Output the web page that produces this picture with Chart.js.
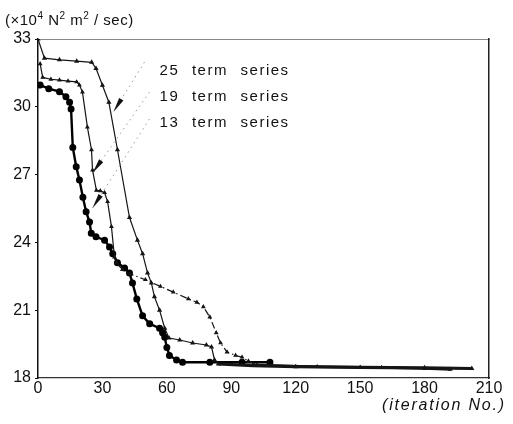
<!DOCTYPE html>
<html>
<head>
<meta charset="utf-8">
<script src="https://cdn.jsdelivr.net/npm/chart.js@4.4.1/dist/chart.umd.min.js"></script>
<style>
  html, body { margin: 0; padding: 0; background: #fff; }
  #wrap { width: 513px; height: 424px; position: relative; }
</style>
</head>
<body>
<div id="wrap"><canvas id="myChart"></canvas></div>
<script>
// 25 term series
const iter25 = [0, 3, 10, 18, 25, 27, 30, 33, 37, 42.6, 46.3, 48.7, 51, 52.8, 54.2, 56.6, 59, 61, 66, 72, 78.4, 80.8, 82.2, 84, 100, 120, 150, 180, 202];
const val25 = [33.0, 32.15, 32.08, 32.02, 31.97, 31.7, 30.95, 30.2, 28.1, 25.1, 24.1, 23.5, 22.65, 22.2, 21.6, 21.0, 20.2, 19.77, 19.68, 19.55, 19.46, 19.37, 18.8, 18.62, 18.55, 18.5, 18.47, 18.45, 18.42];

// 19 term series
const iter19 = [1, 2.2, 6, 10, 14, 18, 19.3, 20.7, 23, 24.9, 25.4, 27.2, 29, 31, 32.4, 34.2, 35.6, 36.5, 39.3, 43, 50, 57, 63, 70, 74, 77, 80, 83, 85, 88, 92, 95, 98, 102, 130, 160, 180, 192];
const val19 = [31.9, 31.3, 31.22, 31.18, 31.14, 31.1, 30.96, 30.65, 29.1, 28.1, 27.2, 26.3, 26.28, 26.2, 25.8, 24.7, 23.35, 23.1, 22.8, 22.6, 22.35, 22.05, 21.8, 21.5, 21.35, 21.15, 20.7, 20.0, 19.55, 19.15, 19.0, 18.92, 18.75, 18.58, 18.5, 18.46, 18.42, 18.38];

// 13 term series
const iter13 = [1, 5, 10, 13, 14.7, 15.4, 16.2, 17.8, 19.3, 20.9, 22.4, 24, 24.8, 27, 31, 33.3, 34.8, 37, 40.3, 42.6, 44, 46, 48.7, 52, 56.6, 58, 59, 60, 61.2, 64.5, 67.3, 80, 95, 108];
const val13 = [30.96, 30.8, 30.67, 30.45, 30.2, 29.9, 28.2, 27.35, 26.76, 26.0, 25.36, 24.9, 24.4, 24.25, 24.1, 23.8, 23.5, 23.1, 22.87, 22.65, 22.2, 21.5, 20.75, 20.4, 20.2, 20.0, 19.8, 19.35, 19.0, 18.8, 18.7, 18.7, 18.7, 18.7];

// labels and leader arrows (data units)
const seriesNames = ['25 term series', '19 term series', '13 term series'];
const nameX = [56.6, 56.6, 56.6];
const nameY = [31.63, 30.48, 29.33];
const leadFromX = [49.6, 51.9, 51.9];
const leadFromY = [31.98, 30.65, 29.46];
const tipX = [35.1, 25.4, 25.4];
const tipY = [29.77, 27.07, 25.52];

const xTicks = [0, 30, 60, 90, 120, 150, 180, 210];
const yTicks = [18, 21, 24, 27, 30, 33];

function pts(xs, ys) {
    return xs.map((v, i) => ({ x: v, y: ys[i] }));
}

const FONT = '"Liberation Sans", Arial, sans-serif';

const notes = {
    id: 'notes',
    afterDraw(chart) {
        const ctx = chart.ctx;
        const x = chart.scales.x;
        const y = chart.scales.y;
        ctx.save();
        ctx.fillStyle = '#111';
        ctx.textBaseline = 'alphabetic';
        ctx.textAlign = 'left';

        // unit label top-left
        const parts = [['(\u00d710', 0], ['4', 1], [' N', 0], ['2', 1], [' m', 0], ['2', 1], [' / sec)', 0]];
        let px = 5;
        ctx.letterSpacing = '0.5px';
        parts.forEach(p => {
            ctx.font = (p[1] ? '10px ' : '15px ') + FONT;
            ctx.fillText(p[0], px, p[1] ? 19 : 25);
            px += ctx.measureText(p[0]).width;
        });

        // axis caption bottom-right
        ctx.font = 'italic 16px ' + FONT;
        ctx.letterSpacing = '1.8px';
        ctx.fillText('(iteration No.)', 382, 410);

        // series names
        ctx.font = '15px ' + FONT;
        ctx.letterSpacing = '1.5px';
        ctx.wordSpacing = '7px';
        seriesNames.forEach((s, i) => {
            ctx.fillText(s, x.getPixelForValue(nameX[i]), y.getPixelForValue(nameY[i]) + 5.5);
        });

        // dotted leaders with arrowheads
        seriesNames.forEach((s, i) => {
            const x0 = x.getPixelForValue(leadFromX[i]);
            const y0 = y.getPixelForValue(leadFromY[i]);
            const x1 = x.getPixelForValue(tipX[i]);
            const y1 = y.getPixelForValue(tipY[i]);
            ctx.strokeStyle = '#999';
            ctx.lineWidth = 1;
            ctx.setLineDash([1.5, 4]);
            ctx.beginPath();
            ctx.moveTo(x0, y0);
            ctx.lineTo(x1, y1);
            ctx.stroke();
            ctx.setLineDash([]);
            const a = Math.atan2(y1 - y0, x1 - x0);
            const len = 15, w = 2.5;
            const bx = x1 - len * Math.cos(a);
            const by = y1 - len * Math.sin(a);
            ctx.beginPath();
            ctx.moveTo(x1, y1);
            ctx.lineTo(bx + w * Math.sin(a), by - w * Math.cos(a));
            ctx.lineTo(bx - w * Math.sin(a), by + w * Math.cos(a));
            ctx.closePath();
            ctx.fill();
        });
        ctx.restore();
    }
};

const ctxChart = document.getElementById('myChart').getContext('2d');
const myChart = new Chart(ctxChart, {
    type: 'line',
    data: {
        datasets: [
            {
                label: seriesNames[0],
                data: pts(iter25, val25),
                borderColor: '#151515',
                backgroundColor: '#151515',
                borderWidth: 1.2,
                pointStyle: 'triangle',
                pointRadius: 1.8,
                segment: {
                    borderWidth: c => c.p0.parsed.x >= 84 ? 3.2 : 1.2
                }
            },
            {
                label: seriesNames[1],
                data: pts(iter19, val19),
                borderColor: '#151515',
                backgroundColor: '#151515',
                borderWidth: 1.2,
                pointStyle: 'triangle',
                pointRadius: 1.6,
                segment: {
                    borderDash: c => (c.p0.parsed.x >= 36.5 && c.p0.parsed.x < 102) ? [7, 3, 1.5, 3] : undefined,
                    borderWidth: c => c.p0.parsed.x >= 102 ? 2.5 : 1.2
                }
            },
            {
                label: seriesNames[2],
                data: pts(iter13, val13),
                borderColor: '#000',
                backgroundColor: '#000',
                borderWidth: 2.4,
                pointStyle: 'circle',
                pointRadius: 2.3
            }
        ]
    },
    options: {
        responsive: true,
        maintainAspectRatio: false,
        animation: false,
        layout: { padding: 0 },
        plugins: {
            legend: { display: false },
            tooltip: { enabled: false }
        },
        scales: {
            x: {
                type: 'linear',
                position: 'bottom',
                min: 0,
                max: 210,
                afterFit: s => { s.height = 46; },
                afterBuildTicks: s => { s.ticks = xTicks.map(v => ({ value: v })); },
                grid: { display: true, drawOnChartArea: false, drawTicks: false },
                border: { display: true, color: '#333', width: 1.2, dash: [10, 4, 2, 4] },
                ticks: { color: '#111', padding: 1, font: { family: FONT, size: 16 } }
            },
            x2: {
                type: 'linear',
                position: 'top',
                min: 0,
                max: 210,
                afterFit: s => { s.height = 39; },
                grid: { display: true, drawOnChartArea: false, drawTicks: false },
                border: { display: true, color: '#888', width: 1, dash: [7, 4, 2, 4] },
                ticks: { display: false }
            },
            y: {
                type: 'linear',
                position: 'left',
                min: 18,
                max: 33,
                afterFit: s => { s.width = 38; },
                afterBuildTicks: s => { s.ticks = yTicks.map(v => ({ value: v })); },
                grid: { display: true, drawOnChartArea: false, drawTicks: true, tickLength: 3, color: '#111' },
                border: { display: true, color: '#111', width: 1.5 },
                ticks: { color: '#111', padding: 4, font: { family: FONT, size: 16 } }
            },
            y2: {
                type: 'linear',
                position: 'right',
                min: 18,
                max: 33,
                afterFit: s => { s.width = 24; },
                grid: { display: true, drawOnChartArea: false, drawTicks: false },
                border: { display: true, color: '#222', width: 1.5 },
                ticks: { display: false }
            }
        }
    },
    plugins: [notes]
});
</script>
</body>
</html>
